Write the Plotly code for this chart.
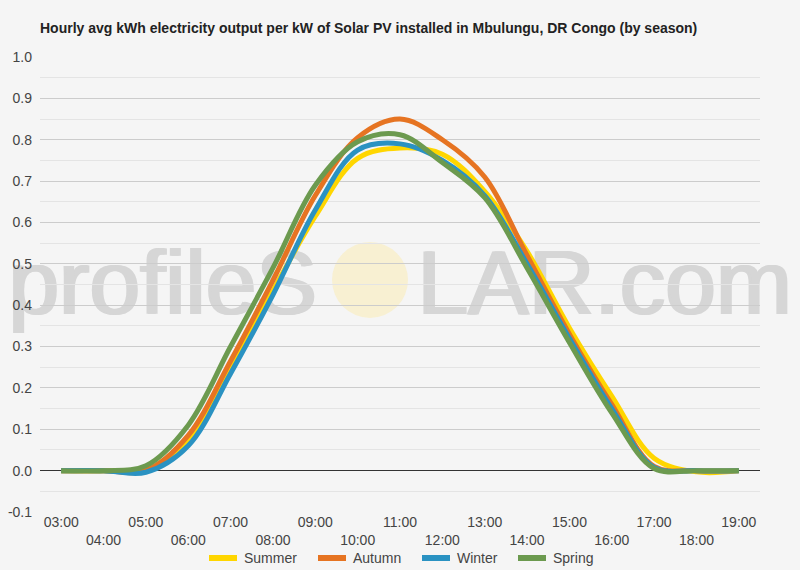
import plotly.graph_objects as go

hours = list(range(3, 20))
tick_labels = ["03:00", "04:00", "05:00", "06:00", "07:00", "08:00", "09:00", "10:00", "11:00",
               "12:00", "13:00", "14:00", "15:00", "16:00", "17:00", "18:00", "19:00"]

summer = [0, 0, 0.003, 0.075, 0.25, 0.435, 0.615, 0.755, 0.78, 0.765, 0.675, 0.53, 0.345, 0.18, 0.03, -0.003, 0]
autumn = [0, 0, 0.0, 0.085, 0.265, 0.46, 0.665, 0.805, 0.85, 0.80, 0.71, 0.52, 0.33, 0.16, 0.01, 0, 0]
winter = [0, 0, -0.004, 0.06, 0.235, 0.425, 0.63, 0.775, 0.79, 0.75, 0.665, 0.50, 0.32, 0.15, 0.008, 0, 0]
spring = [0, 0, 0.012, 0.11, 0.30, 0.49, 0.69, 0.795, 0.812, 0.745, 0.66, 0.49, 0.31, 0.14, 0.005, 0, 0]

series = [("Summer", summer, "#FFD600"), ("Autumn", autumn, "#E67422"),
          ("Winter", winter, "#2A92C2"), ("Spring", spring, "#6C9A4F")]

BG = "#f5f5f5"
W, H = 800, 570
L, R, T, B = 40, 40, 57, 58

fig = go.Figure()
for name, vals, col in series:
    fig.add_trace(go.Scatter(x=hours, y=vals, name=name, mode="lines", showlegend=False,
                             line=dict(color=col, width=5, shape="spline", smoothing=1.0)))

# two-row tick labels
ticktext = [t if i % 2 == 0 else "<br>" + t for i, t in enumerate(tick_labels)]

def px_x(x):
    return (x - L) / (W - L - R)

def px_y(y):
    return (H - B - y) / (H - T - B)

fig.update_layout(
    width=W, height=H,
    margin=dict(l=L, r=R, t=T, b=B, autoexpand=False),
    paper_bgcolor=BG, plot_bgcolor=BG,
    font=dict(family="Liberation Sans, Arial, sans-serif", size=14, color="#444"),
    title=dict(text="<b>Hourly avg kWh electricity output per kW of Solar PV installed in Mbulungu, DR Congo (by season)</b>",
               x=40 / W, xanchor="left", xref="container", y=1 - 28 / H, yanchor="middle", yref="container",
               font=dict(size=14, color="#222")),
    xaxis=dict(range=[2.5, 19.5], tickmode="array", tickvals=hours, ticktext=ticktext,
               showgrid=False, zeroline=False, showline=False, ticks="", fixedrange=True,
               tickfont=dict(size=14, color="#444")),
    yaxis=dict(range=[-0.1, 1.0], tickmode="array", tickvals=[-0.1, 0, 0.1, 0.2, 0.3, 0.4, 0.5, 0.6, 0.7, 0.8, 0.9, 1.0],
               ticktext=["-0.1", "0.0", "0.1", "0.2", "0.3", "0.4", "0.5", "0.6", "0.7", "0.8", "0.9", "1.0"],
               showgrid=True, gridcolor="#cccccc", gridwidth=1,
               minor=dict(dtick=0.05, tick0=0, showgrid=True, gridcolor="#e4e4e4", gridwidth=1),
               zeroline=True, zerolinecolor="#333333", zerolinewidth=1,
               ticks="", ticklabelstandoff=7, tickfont=dict(size=14, color="#444")),
    showlegend=False,
)

# legend drawn as swatches + labels below the axis
legend_x = [209, 318, 422, 518]
for (name, vals, col), lx in zip(series, legend_x):
    fig.add_shape(type="line", xref="paper", yref="paper",
                  x0=px_x(lx), x1=px_x(lx + 28), y0=px_y(558), y1=px_y(558),
                  line=dict(color=col, width=6))
    fig.add_annotation(text=name, xref="paper", yref="paper", x=px_x(lx + 33), y=px_y(558),
                       xanchor="left", yanchor="middle", showarrow=False,
                       font=dict(size=14, color="#444"))

# watermark (below gridlines and traces)
fig.add_shape(type="circle", xref="paper", yref="paper", layer="below",
              x0=px_x(332), x1=px_x(408), y0=px_y(318), y1=px_y(242),
              fillcolor="#f8f0d2", line=dict(width=0))
for dx in (0, 1.5, 3):
    for txt, x0, x1 in (("profileS", 1, 333), ("LAR.com", 410, 793)):
        fig.add_shape(type="rect", xref="paper", yref="paper", layer="below",
                      x0=px_x(x0 + dx), x1=px_x(x1 + dx), y0=px_y(318), y1=px_y(228),
                      line=dict(width=0), fillcolor="rgba(0,0,0,0)",
                      label=dict(text=txt, textposition="middle left",
                                 font=dict(size=91, color="#d6d6d6", family="Liberation Sans, Arial")))

fig.write_html("out.html", config={"displayModeBar": False})
